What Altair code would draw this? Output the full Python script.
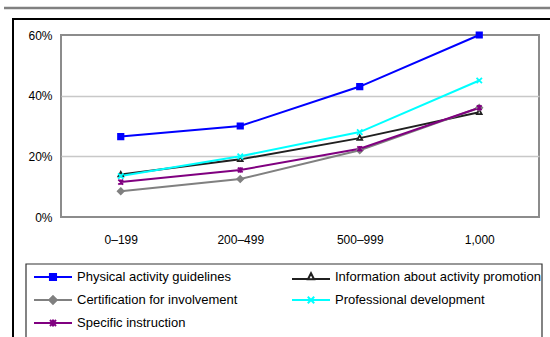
import altair as alt
import pandas as pd

categories = ["0\u2013199", "200\u2013499", "500\u2013999", "1,000"]
series = [
    "Physical activity guidelines",
    "Information about activity promotion",
    "Certification for involvement",
    "Professional development",
    "Specific instruction",
]
physical = [0.265, 0.30, 0.43, 0.60]
information = [0.14, 0.19, 0.26, 0.345]
certification = [0.085, 0.125, 0.22, 0.36]
professional = [0.135, 0.20, 0.28, 0.45]
specific = [0.115, 0.155, 0.225, 0.36]
y_ticks = [0, 0.2, 0.4, 0.6]

colors = ["#0000ff", "#202020", "#808080", "#00ffff", "#800080"]
fills = ["#0000ff", "#ffffff", "#808080", "transparent", "transparent"]

# plot markers (unit paths)
marker_paths = [
    "M-0.45,-0.45L0.45,-0.45L0.45,0.45L-0.45,0.45Z",
    "M0,-0.45L0.4,0.3L-0.4,0.3Z",
    "M0,-0.5L0.5,0L0,0.5L-0.5,0Z",
    "M-0.45,-0.45L0.45,0.45M-0.45,0.45L0.45,-0.45",
    "M-0.4,-0.4L0.4,0.4M-0.4,0.4L0.4,-0.4M0,-0.45L0,0.45",
]
# legend symbols: line + marker
legend_paths = [
    "M-1,0L1,0M-0.16,-0.16L0.16,-0.16L0.16,0.16L-0.16,0.16Z",
    "M-1,0.1L-0.17,0.1M0.17,0.1L1,0.1M0,-0.2L0.16,0.12L-0.16,0.12Z",
    "M-1,0L1,0M0,-0.2L0.2,0L0,0.2L-0.2,0Z",
    "M-1,0L1,0M-0.17,-0.17L0.17,0.17M-0.17,0.17L0.17,-0.17",
    "M-1,0L1,0M-0.16,-0.16L0.16,0.16M-0.16,0.16L0.16,-0.16M0,-0.18L0,0.18",
]

rows = []
for name, vals in zip(series, [physical, information, certification, professional, specific]):
    for c, v in zip(categories, vals):
        rows.append({"series": name, "cat": c, "value": v})
df = pd.DataFrame(rows)

FONT = "Liberation Sans"

x_enc = alt.X("cat:N", sort=categories, scale=alt.Scale(type="point", padding=0.5),
              axis=alt.Axis(title=None, labelAngle=0, ticks=False, domain=False,
                            labelPadding=17, labelFontSize=12, labelFont=FONT,
                            labelColor="#000000"))
y_enc = alt.Y("value:Q", scale=alt.Scale(domain=[0, 0.6], nice=False),
              axis=alt.Axis(title=None, values=y_ticks, format=".0%", ticks=False,
                            domain=False, labelPadding=9, labelFontSize=12,
                            labelFont=FONT, labelColor="#000000",
                            gridColor=alt.condition("datum.value > 0 && datum.value < 0.6",
                                                    alt.value("#c8c8c8"), alt.value("transparent")),
                            gridWidth=1.5))

lines = alt.Chart(df).mark_line(strokeWidth=2).encode(
    x=x_enc, y=y_enc,
    color=alt.Color("series:N", scale=alt.Scale(domain=series, range=colors), legend=None),
    order=alt.Order("cat_idx:Q"),
).transform_calculate(cat_idx="indexof(%s, datum.cat)" % str(categories))

points = alt.Chart(df).mark_point(strokeWidth=1.8, opacity=1, size=144).encode(
    x=alt.X("cat:N", sort=categories),
    y="value:Q",
    shape=alt.Shape("series:N", scale=alt.Scale(domain=series, range=marker_paths), legend=None),
    stroke=alt.Stroke("series:N", scale=alt.Scale(domain=series, range=colors), legend=None),
    fill=alt.Fill("series:N", scale=alt.Scale(domain=series, range=fills), legend=None),
)

legend_cfg = alt.Legend(
    orient="none", legendX=-28, legendY=234, direction="horizontal", columns=2,
    title=None, symbolSize=1444, symbolStrokeWidth=2, symbolOpacity=1,
    labelFont=FONT, labelFontSize=13, labelColor="#000000", labelLimit=400,
    labelOffset=4, columnPadding=53, rowPadding=7, padding=0, clipHeight=16,
)
legend_layer = alt.Chart(df).mark_point(opacity=0, size=1444, strokeWidth=2).encode(
    x=alt.X("cat:N", sort=categories),
    y="value:Q",
    shape=alt.Shape("series:N", scale=alt.Scale(domain=series, range=legend_paths), legend=legend_cfg),
    stroke=alt.Stroke("series:N", scale=alt.Scale(domain=series, range=colors), legend=legend_cfg),
    fill=alt.Fill("series:N", scale=alt.Scale(domain=series, range=fills), legend=legend_cfg),
)

frame_df = pd.DataFrame({"k": [0]})
outer_frame = alt.Chart(frame_df).mark_rect(fill="transparent", stroke="#000000", strokeWidth=2, clip=False).encode(
    x=alt.value(-48), x2=alt.value(600), y=alt.value(-16), y2=alt.value(400))
top_line = alt.Chart(frame_df).mark_rule(stroke="#808080", strokeWidth=2.5, clip=False).encode(
    x=alt.value(-57), x2=alt.value(500), y=alt.value(-27))
legend_box = alt.Chart(frame_df).mark_rect(fill="transparent", stroke="#333333", strokeWidth=1.2, clip=False).encode(
    x=alt.value(-35), x2=alt.value(481), y=alt.value(229), y2=alt.value(330))

chart = alt.layer(outer_frame, top_line, legend_box, lines, points, legend_layer).resolve_scale(
    shape="independent", stroke="independent", fill="independent"
).properties(
    width=478, height=182,
    autosize=alt.AutoSizeParams(type="none"),
    padding={"left": 61, "top": 35, "right": 11, "bottom": 120},
    background="#ffffff",
).configure_view(stroke="#8c8c8c", strokeWidth=2)

chart.save("out.html", embed_options={"renderer": "svg", "actions": False})
